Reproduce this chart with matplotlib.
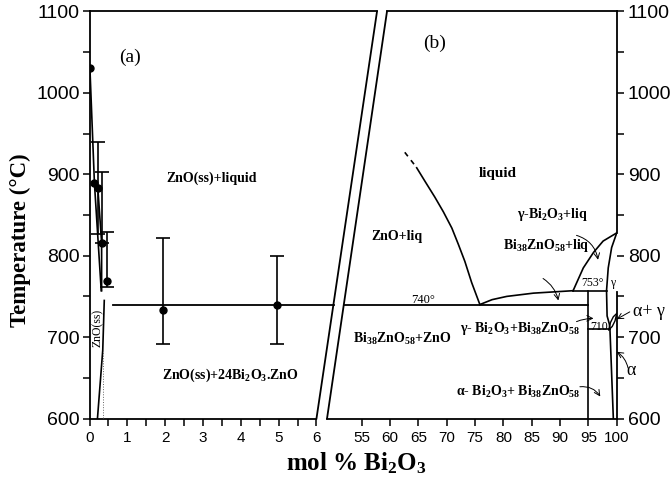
import numpy as np
import matplotlib
matplotlib.use('Agg')
import matplotlib.pyplot as plt

plt.rcParams['font.family'] = 'Liberation Sans'
plt.rcParams['mathtext.fontset'] = 'custom'
plt.rcParams['mathtext.rm'] = 'Liberation Serif:bold'
plt.rcParams['mathtext.it'] = 'Liberation Serif:bold'
plt.rcParams['mathtext.bf'] = 'Liberation Serif:bold'
SERIF = 'Liberation Serif'

# ---- panel (a): 0-6 mol% Bi2O3
pt_x = [0.01, 0.13, 0.22, 0.32, 0.47, 1.94, 4.96]
pt_T = [1031, 889, 883, 816, 769, 733, 740]
err_x = [0.22, 0.32, 0.47, 1.94, 4.96]
err_T = [883, 816, 769, 733, 740]
err_lo = [827, 815, 761, 691, 692]
err_hi = [940, 903, 829, 822, 800]
liqA_x = [0.01, 0.13, 0.31]
liqA_T = [1031, 889, 757]
liqB_x = [0.22, 0.32, 0.32]
liqB_T = [883, 816, 757]
solvus_x = [0.39, 0.35, 0.21]
solvus_T = [745, 684, 600]
dot_x = [0.35, 0.35]
dot_T = [684, 600]
eut_a_x = [0.61, 6.45]
eut_T = 740

# ---- panel (b): 50-100 mol% Bi2O3
liq_dash_x = [62.6, 64.5]
liq_dash_T = [927, 910]
liq_x = [64.7, 66.2, 67.9, 69.4, 70.9, 72.05, 73.2, 74.4, 75.85]
liq_T = [908, 891, 872, 854, 834, 814, 793, 767, 740]
eut_b_x = [51.84, 95]
per_x = [75.85, 78, 80.6, 85.3, 92.3]
per_T = [740, 746, 750, 754, 757]
t753_x = [92.3, 98.2]
t753 = 757
gliq_x = [92.3, 94.1, 95.9, 97.6, 100]
gliq_T = [757, 785, 804, 818, 828]
gsol_x = [100, 99.1, 98.5, 98.2, 98.3, 98.7, 98.8]
gsol_T = [828, 810, 785, 757, 726, 716, 710]
v95_T = [600, 757]
t710_x = [95, 98.8]
t710 = 710
asol_x = [98.8, 99.4]
asol_T = [710, 600]
lensL_x = [98.6, 98.9, 99.4, 100]
lensL_T = [709, 718, 725, 729]
lensR_x = [98.6, 99.2, 99.7, 100]
lensR_T = [709, 713, 720, 729]

fig = plt.figure(figsize=(6.7, 4.93), dpi=100)
ax1 = fig.add_axes([0.1336, 0.1511, 0.4291, 0.8256])
ax2 = fig.add_axes([0.4881, 0.1511, 0.4324, 0.8256])
lw = 1.3

for ax in (ax1, ax2):
    ax.patch.set_visible(False)
    ax.set_ylim(600, 1100)
    for s in ax.spines.values():
        s.set_visible(False)
    ax.set_yticks(range(600, 1101, 100))
    ax.set_yticks(range(650, 1100, 100), minor=True)
    ax.tick_params(which='both', direction='out', length=5, width=1.1)
    ax.tick_params(axis='x', labelsize=11, pad=4)
    ax.tick_params(axis='y', labelsize=14)

ax1.set_xlim(0, 7.6)
ax2.set_xlim(48.88, 100)
ax1.spines['left'].set_visible(True)
ax1.spines['left'].set_linewidth(lw)
ax1.set_xticks(range(0, 7))
ax1.set_xticks(np.arange(0.5, 6, 1), minor=True)
ax1.tick_params(axis='y', pad=2)
ax2.set_xticks(range(55, 101, 5))
ax2.yaxis.tick_right()
ax2.tick_params(axis='y', pad=3)

# frame pieces and axis break
k = dict(color='k', lw=lw, clip_on=False)
ax1.plot([0, 7.6], [1100, 1100], **k)
ax1.plot([0, 6.0], [600, 600], **k)
ax1.plot([6.0, 7.6], [600, 1100], **k)
ax2.plot([59.46, 100], [1100, 1100], **k)
ax2.plot([48.88, 100], [600, 600], **k)
ax2.plot([48.88, 59.46], [600, 1100], **k)
ax2.plot([100, 100], [600, 755], **k)
ax2.plot([100, 100], [828, 1100], **k)

# panel (a)
ax1.plot(liqA_x, liqA_T, 'k-', lw=1.2)
ax1.plot(liqB_x, liqB_T, 'k-', lw=1.2)
ax1.plot(solvus_x, solvus_T, 'k-', lw=1.2)
ax1.plot(dot_x, dot_T, color='0.4', ls=':', lw=0.7)
ax1.plot(eut_a_x, [eut_T, eut_T], 'k-', lw=lw)
lo = np.array(err_T) - np.array(err_lo)
hi = np.array(err_hi) - np.array(err_T)
ax1.errorbar(err_x, err_T, yerr=[lo, hi], fmt='none', ecolor='k',
             elinewidth=1.2, capsize=5, capthick=1.2)
ax1.plot(pt_x, pt_T, 'ko', ms=5, zorder=5)

ax1.text(1.07, 1044, '(a)', family=SERIF, fontsize=14, ha='center', va='center')
ax1.text(3.23, 895, 'ZnO(ss)+liquid', family=SERIF, fontsize=10,
         weight='bold', ha='center', va='center')
ax1.text(3.71, 653, r'ZnO(ss)+24Bi$_2$O$_3$.ZnO', family=SERIF, fontsize=10,
         weight='bold', ha='center', va='center')
ax1.text(0.23, 711, 'ZnO(ss)', family=SERIF, fontsize=8.5, rotation=90,
         ha='center', va='center')

# panel (b)
ax2.plot(liq_dash_x, liq_dash_T, 'k', lw=1.2, ls=(0, (3, 3)))
ax2.plot(liq_x, liq_T, 'k-', lw=1.2)
ax2.plot(eut_b_x, [eut_T, eut_T], 'k-', lw=lw)
ax2.plot(per_x, per_T, 'k-', lw=1.2)
ax2.plot(t753_x, [t753, t753], 'k-', lw=1.2)
ax2.plot(gliq_x, gliq_T, 'k-', lw=1.2)
ax2.plot(gsol_x, gsol_T, 'k-', lw=1.2)
ax2.plot([95, 95], v95_T, 'k-', lw=1.2)
ax2.plot(t710_x, [t710, t710], 'k-', lw=1.2)
ax2.plot(asol_x, asol_T, 'k-', lw=1.2)
ax2.plot(lensL_x, lensL_T, 'k-', lw=1.0)
ax2.plot(lensR_x, lensR_T, 'k-', lw=1.0)

bold = dict(family=SERIF, fontsize=10, weight='bold', ha='center', va='center')
ax2.text(67.9, 1061, '(b)', family=SERIF, fontsize=14, ha='center', va='center')
ax2.text(79.0, 901, 'liquid', **dict(bold, fontsize=11))
ax2.text(61.2, 823, 'ZnO+liq', **bold)
ax2.text(88.6, 850, r'γ-Bi$_2$O$_3$+liq', **bold)
ax2.text(87.5, 812, r'Bi$_{38}$ZnO$_{58}$+liq', **bold)
ax2.text(62.1, 698, r'Bi$_{38}$ZnO$_{58}$+ZnO', **bold)
ax2.text(82.9, 711, r'γ- Bi$_2$O$_3$+Bi$_{38}$ZnO$_{58}$', **bold)
ax2.text(82.6, 633, r'α- Bi$_2$O$_3$+ Bi$_{38}$ZnO$_{58}$', **bold)
small = dict(family=SERIF, ha='center', va='center')
ax2.text(65.9, 746, '740°', fontsize=9, **small)
ax2.text(95.8, 767, '753°', fontsize=8.5, **small)
ax2.text(99.3, 767, 'γ', fontsize=8.5, **small)
ax2.text(96.9, 712, '710', fontsize=8.5, **small)
ax2.text(105.6, 731, 'α+ γ', fontsize=13, clip_on=False, **small)
ax2.text(102.6, 659, 'α', fontsize=13, clip_on=False, **small)

arrows = [((96.7, 795), (92.9, 825), -0.3),
          ((89.7, 745), (87.0, 772), -0.2),
          ((95.9, 723), (92.9, 719), -0.1),
          ((97.1, 627), (93.5, 639), -0.3),
          ((100.0, 722), (102.3, 731), 0.0),
          ((100.0, 682), (102.0, 662), 0.2)]
for tip, tail, rad in arrows:
    ax2.annotate('', xy=tip, xytext=tail, annotation_clip=False,
                 arrowprops=dict(arrowstyle='->', lw=0.7, color='k',
                                 shrinkA=0, shrinkB=0,
                                 connectionstyle='arc3,rad=%s' % rad))

fig.text(0.03, 1 - 240 / 493, 'Temperature (°C)', family=SERIF, fontsize=16.5,
         weight='bold', rotation=90, ha='center', va='center')
fig.text(356 / 670, 1 - 463 / 493, r'mol % Bi$_2$O$_3$', family=SERIF,
         fontsize=18, weight='bold', ha='center', va='center')

fig.savefig('out.png', dpi=100)
